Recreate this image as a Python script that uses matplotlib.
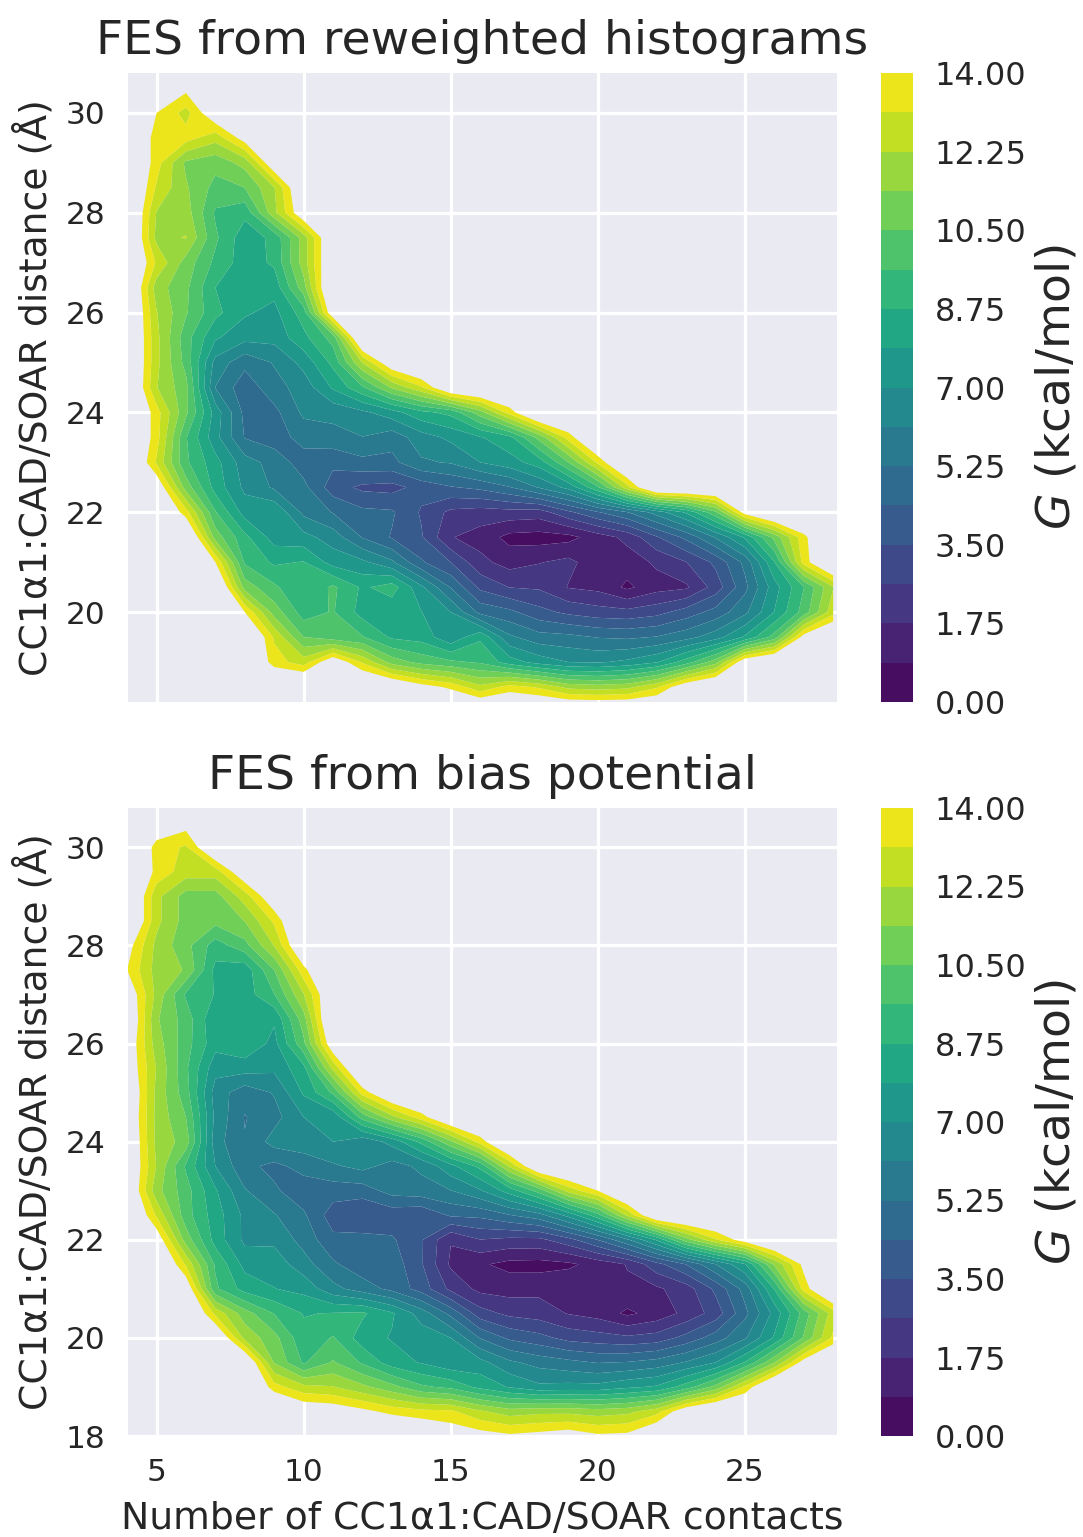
import numpy as np
import matplotlib
matplotlib.use("Agg")
import matplotlib.pyplot as plt

W, H = 1083, 1537
X = 16.0  # outside the sampled region (above the top contour level)
x_grid = list(range(4, 29))
y_grid = [18 + 0.5 * i for i in range(27)]

# (y, first x, free energies from that x onward)
rows_hist = [
 (30.5, 5, [14.3, 14.3]),
 (30.0, 5, [14, 12.8, 15]),
 (29.5, 5, [13.5, 13.5, 12.6, 14.5]),
 (29.0, 5, [13.5, 11.2, 10.8, 11.7, 15]),
 (28.5, 5, [13, 11.5, 10.2, 10.5, 12.2, 15.5]),
 (28.0, 5, [12.2, 11.8, 9.5, 9, 12, 15]),
 (27.5, 5, [12, 12.3, 9.8, 8.2, 9, 11.8, 15.5]),
 (27.0, 5, [13, 11, 9.4, 8.3, 8.9, 11.8, 15.5]),
 (26.5, 5, [11.8, 10.7, 8.75, 8, 8.2, 11, 16]),
 (26.0, 5, [12.3, 10.6, 9, 8, 7.6, 9.2, 15]),
 (25.5, 5, [12.5, 10, 8, 7.3, 7.3, 8.5, 10, 16]),
 (25.0, 5, [12.5, 10.2, 6.7, 5.5, 6.2, 7.3, 9, 12.3, 15]),
 (24.5, 5, [12.3, 10.8, 6.1, 4.7, 5.8, 6.5, 8, 9.5, 11.5, 13, 15.5]),
 (24.0, 5, [13.5, 10.7, 7.5, 5, 5, 6.3, 6.4, 6.8, 7.5, 8.5, 9, 11, 13.5]),
 (23.5, 5, [13.5, 9.7, 7.3, 5.2, 4.8, 5.6, 5.8, 6.1, 5.6, 6.6, 7.2, 7.8, 8.5, 10.8, 13.5]),
 (23.0, 5, [13, 9.8, 8.2, 6.5, 5.8, 4.8, 4.6, 5, 5, 6, 6.2, 7, 7.5, 8.3, 10.5, 13.3]),
 (22.5, 5, [15, 11, 8.4, 6.8, 6, 5.5, 3.9, 3.3, 3.2, 3.8, 4.3, 4.6, 5.2, 6.2, 7.3, 9.5, 12.8, 16]),
 (22.0, 6, [13.5, 9.7, 7.5, 7.8, 5.9, 5.2, 4.6, 4.5, 3.4, 2.4, 2.2, 2.3, 2.2, 3.3, 4.3, 5.2, 6.5, 8, 10.3, 14.5]),
 (21.5, 6, [16, 11, 9, 7.5, 7.3, 6.6, 5.2, 4.3, 3.6, 1.8, 1.4, 0.6, 0.5, 0.6, 1.3, 2, 3.4, 4.6, 6.2, 8, 10.8, 13.7]),
 (21.0, 7, [14, 9.5, 8.6, 8.8, 7.5, 7.2, 6.3, 4.5, 3.5, 2, 1.4, 1.7, 2, 1.2, 1.3, 1.9, 2.6, 3.7, 5.5, 8.7, 13.5, 16]),
 (20.5, 8, [11, 9.8, 8.8, 9.8, 8.6, 9.2, 7.2, 5.2, 3.3, 2.6, 2.5, 1.7, 1.5, 0.7, 1.4, 1.6, 3, 5, 7.5, 9.6, 12.2]),
 (20.0, 8, [14, 11, 9.2, 9.7, 8.4, 8.1, 7.9, 7, 5, 4.6, 3.8, 3.3, 3, 2.9, 3.2, 3.9, 4.7, 5.9, 7.9, 10, 12.8]),
 (19.5, 9, [13, 10.5, 10, 9.7, 8.6, 8.4, 7.2, 8.6, 6.3, 5.6, 5.5, 5.2, 5.1, 5.3, 5.8, 6.6, 8, 10, 14.5]),
 (19.0, 9, [13.5, 12.7, 15, 13, 11, 10.2, 9.8, 9.5, 8.3, 7.5, 7, 6.9, 7.2, 7.8, 9.2, 11, 15]),
 (18.5, 13, [15.5, 14.5, 13.8, 12.5, 13.5, 13, 12, 11.8, 12, 13, 15]),
]

rows_bias = [
 (30.5, 5, [15, 14.5]),
 (30.0, 5, [13.6, 13, 15.5]),
 (29.5, 5, [13.7, 12.7, 12.7, 15]),
 (29.0, 5, [12.5, 11, 11, 12.7, 15]),
 (28.5, 5, [12.5, 11, 10.8, 11.4, 13.3]),
 (28.0, 4, [14.5, 12, 10.8, 9.2, 10.2, 12.3, 15.5]),
 (27.5, 4, [14, 11.9, 11.3, 8.5, 8.2, 10.5, 13.7]),
 (27.0, 4, [15, 12, 9.5, 8.7, 8.3, 9.6, 12.2, 15.5]),
 (26.5, 4, [15.5, 11.5, 10.1, 8, 8, 8, 11]),
 (26.0, 4, [15, 11.8, 10, 8.2, 8.6, 7.6, 10.3, 15]),
 (25.5, 4, [15, 12.2, 9.8, 7.3, 7.4, 7.2, 8.5, 12.5]),
 (25.0, 4, [15.5, 12, 10, 6.6, 5.6, 6.2, 8, 9.8, 13.5, 15.5]),
 (24.5, 4, [15.3, 12, 10.5, 6.8, 5.2, 5.8, 7, 7.2, 10, 12, 13.6, 15.5]),
 (24.0, 4, [15.5, 12, 11, 6.5, 5.3, 6.5, 6.6, 7, 6.4, 7.3, 9, 11.2, 13.5]),
 (23.5, 4, [15.5, 12.2, 9.5, 7, 5.5, 5, 5.6, 6, 6.4, 5.8, 6.3, 7.6, 9, 12.4, 15.5]),
 (23.0, 4, [15.5, 11.7, 10, 8, 6.2, 5.4, 4.7, 4.8, 4.8, 5.6, 5.8, 6.1, 6.9, 8.3, 10, 12.6, 14]),
 (22.5, 5, [13, 10, 8.3, 6.8, 6.2, 5.4, 3.9, 3.5, 3.8, 3.6, 4.5, 4.6, 5.2, 5.8, 7.3, 9.3, 12.4, 15.5]),
 (22.0, 5, [14.8, 11, 8.4, 6.8, 6.8, 5.8, 4.6, 4.7, 4.5, 3.6, 1.8, 2.6, 2.4, 2.4, 3.2, 4.4, 6, 8, 11, 13, 14.6]),
 (21.5, 6, [13, 9.5, 7.6, 7.5, 6.5, 5.4, 4.7, 4.9, 3.6, 1.6, 1, 0.6, 0.55, 0.7, 1.2, 1.8, 3.2, 4.4, 6.1, 7.8, 11.5, 14.3]),
 (21.0, 6, [15, 9.8, 8.4, 7.9, 7.6, 6.4, 5.7, 5, 4, 2.4, 1.5, 1.4, 1.5, 1.6, 1.4, 1.6, 1.6, 2.2, 3.7, 5.6, 8.8, 13.5]),
 (20.5, 7, [12.9, 10.9, 9.6, 8.7, 8.8, 8.9, 8, 6.6, 5, 3, 2.4, 2.2, 1.7, 1.4, 0.7, 1.2, 2, 3, 5, 7.3, 10, 12.7]),
 (20.0, 7, [15.5, 12, 10.8, 9, 9.7, 8.3, 7.8, 7.5, 7, 5.2, 4.2, 3.8, 3.2, 3, 2.8, 3, 3.8, 4.8, 6, 8, 10.6, 13.3]),
 (19.5, 8, [15.5, 11.3, 9.5, 10.6, 9.5, 8.3, 7.8, 7.2, 7.3, 6.3, 5.8, 5.5, 5.2, 5.3, 5.6, 6.2, 7, 8.8, 11.3, 14.5]),
 (19.0, 9, [13.5, 12.5, 12.3, 11.6, 10.8, 9.8, 9.4, 8.5, 7.8, 7.2, 7.3, 7.3, 7.7, 8, 9.2, 10.8, 13.3]),
 (18.5, 10, [15, 14.8, 14.3, 13.7, 13.4, 13.3, 12.4, 11.8, 12, 12, 11.8, 12, 12.8, 15]),
 (18.0, 14, [15.5, 14.8, 14.5, 14.2, 14.4, 14.7, 14.2, 14.3, 15.5]),
]

levels = np.linspace(0, 14, 17)
cbar_ticks = levels[::2]
x_ticks = [5, 10, 15, 20, 25]
y_ticks_hist = [20, 22, 24, 26, 28, 30]
y_ticks_bias = [18, 20, 22, 24, 26, 28, 30]
ylabel = "CC1\u03b11:CAD/SOAR distance (\u00c5)"
xlabel = "Number of CC1\u03b11:CAD/SOAR contacts"
cbar_label = "$G$ (kcal/mol)"
ink = "#262626"

def to_grid(rows):
    z = np.full((len(y_grid), len(x_grid)), X)
    for y, x0, vals in rows:
        i = y_grid.index(y)
        j = x_grid.index(x0)
        z[i, j:j + len(vals)] = vals
    return z

plt.rcParams["font.family"] = "DejaVu Sans"
plt.rcParams["mathtext.fontset"] = "dejavusans"
fig = plt.figure(figsize=(W / 100, H / 100), dpi=100)

def box(l, t, r, b):
    return [l / W, 1 - b / H, (r - l) / W, (b - t) / H]

def panel(rows, title, top, bottom, ylim, yticks, show_x):
    ax = fig.add_axes(box(128, top, 837, bottom), facecolor="#EAEAF2")
    cs = ax.contourf(x_grid, y_grid, to_grid(rows), levels=levels, cmap="viridis", antialiased=True)
    ax.set_xlim(4.03, 28.13)
    ax.set_ylim(*ylim)
    ax.set_xticks(x_ticks)
    ax.set_yticks(yticks)
    ax.grid(True, color="white", linewidth=2.3)
    ax.set_axisbelow(True)
    for s in ax.spines.values():
        s.set_visible(False)
    ax.tick_params(length=0, labelsize=22.5, colors=ink, pad=16)
    if not show_x:
        ax.tick_params(labelbottom=False)
    else:
        ax.set_xlabel(xlabel, fontsize=27.2, color=ink, labelpad=10)
    ax.set_ylabel(ylabel, fontsize=27.2, color=ink, labelpad=8)
    ax.set_title(title, fontsize=34, color=ink, pad=14)
    cax = fig.add_axes(box(881, top, 913, bottom))
    cb = fig.colorbar(cs, cax=cax, ticks=cbar_ticks, format="%.2f")
    cb.outline.set_visible(False)
    cb.ax.tick_params(length=0, labelsize=23, colors=ink, pad=15.5)
    cb.set_label(cbar_label, fontsize=34, color=ink, labelpad=6)
    return ax

panel(rows_hist, "FES from reweighted histograms", 73, 702, (18.2, 30.8), y_ticks_hist, False)
panel(rows_bias, "FES from bias potential", 808, 1436, (18.0, 30.8), y_ticks_bias, True)

fig.savefig("out.png", dpi=100)
